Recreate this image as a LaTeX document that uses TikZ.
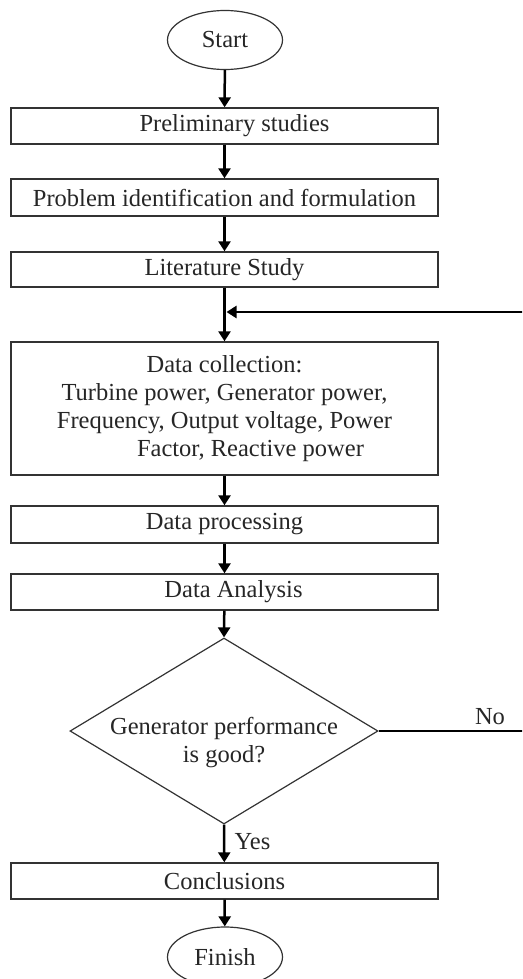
\documentclass[tikz,border=0pt]{standalone}
\usepackage{fontspec}
\setmainfont{Liberation Serif}
\usetikzlibrary{shapes.geometric,arrows.meta}
\begin{document}
\begin{tikzpicture}[x=1pt,y=-1pt,
  font=\fontsize{24.5}{28}\selectfont,
  every node/.style={text=black!85},
  procbox/.style={draw=black!80,line width=1.4pt,rectangle,minimum width=427pt,inner sep=0pt},
  term/.style={draw=black!80,line width=1.2pt,ellipse,minimum width=115pt,minimum height=59pt,inner sep=0pt},
  decbox/.style={draw=black!80,line width=1.2pt,diamond,minimum width=308pt,minimum height=186pt,inner sep=0pt},
  flow/.style={line width=2.5pt,-{Triangle[length=10pt,width=12pt]}},
  plain/.style={line width=2.5pt}]
\useasboundingbox (0,0) rectangle (522,979);
\clip (0,0) rectangle (522,979);
\fill[white] (0,0) rectangle (522,979);
\node[term] (start) at (225,40) {Start};
\node[procbox,minimum height=36pt] (pre) at (224.5,126) {\hspace*{20pt}Preliminary studies};
\node[procbox,minimum height=37pt] (prob) at (224.5,197.5) {Problem identification and formulation};
\node[procbox,minimum height=35pt] (lit) at (224.5,269.5) {Literature Study};
\node[procbox,minimum height=133pt,align=center] (dc) at (224.5,408.5) {Data collection:\\Turbine power, Generator power,\\Frequency, Output voltage, Power\\\hspace*{52pt}Factor, Reactive power};
\node[procbox,minimum height=37pt] (dp) at (224.5,524.5) {Data processing};
\node[procbox,minimum height=36pt] (da) at (224.5,592) {\hspace*{18pt}Data Analysis};
\node[decbox] (dec) at (224,731) {};
\node[align=center] (dectext) at (224,743) {Generator performance\\is good?};
\node[procbox,minimum height=36pt] (concl) at (224.5,881) {Conclusions};
\node[term,minimum height=60pt] (finish) at (225,957) {Finish};
\coordinate (fbin) at (523,312);
\coordinate (join) at (lit.south |- fbin);
\coordinate (noend) at (523,731);
\node (nolab) at (490,717) {No};
\draw[flow] (start) -- (pre);
\draw[flow] (pre) -- (prob);
\draw[flow] (prob) -- (lit);
\draw[flow] (lit) -- (dc);
\draw[flow] (fbin) -- ([xshift=2pt]join);
\draw[flow] (dc) -- (dp);
\draw[flow] (dp) -- (da);
\draw[flow] (da) -- (dec.north);
\draw[flow] (dec.south) -- node[right=6pt,pos=0.45] (yeslab) {Yes} (concl);
\draw[flow] (concl) -- (finish);
\draw[plain] (dec.east) -- (noend);
\end{tikzpicture}
\end{document}
